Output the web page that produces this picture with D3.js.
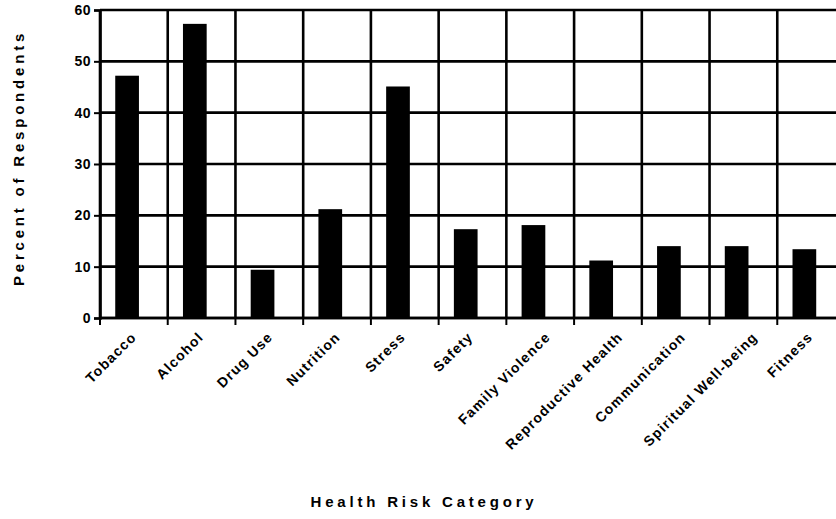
<!DOCTYPE html>
<html>
<head>
<meta charset="utf-8">
<script src="https://cdn.jsdelivr.net/npm/d3@7"></script>
<style>
  html, body { margin: 0; padding: 0; background: #fff; }
  svg { display: block; }
  text { font-family: "Liberation Sans", Arial, sans-serif; font-weight: bold; fill: #000; }
</style>
</head>
<body>
<svg id="chart" width="836" height="519"></svg>
<script>
// Health risk categories and share of respondents (%)
const categories = ["Tobacco", "Alcohol", "Drug Use", "Nutrition", "Stress", "Safety",
  "Family Violence", "Reproductive Health", "Communication", "Spiritual Well-being", "Fitness"];
const percents = [47.2, 57.3, 9.4, 21.2, 45.1, 17.3, 18.1, 11.2, 14.0, 14.0, 13.4];
const yTicks = [0, 10, 20, 30, 40, 50, 60];
const yTitle = "Percent of Respondents";
const xTitle = "Health Risk Category";

const svg = d3.select("#chart");
const plot = { left: 100, right: 845, top: 10, bottom: 318 };

const x = d3.scaleBand().domain(categories).range([plot.left, plot.right]).paddingInner(0).paddingOuter(0);
const y = d3.scaleLinear().domain([0, 60]).range([plot.bottom, plot.top]);
const bw = x.bandwidth();

const g = svg.append("g");

// horizontal gridlines
g.selectAll("line.hgrid").data(yTicks).join("line")
  .attr("class", "hgrid")
  .attr("x1", plot.left).attr("x2", plot.right)
  .attr("y1", d => y(d)).attr("y2", d => y(d))
  .attr("stroke", "#000").attr("stroke-width", 2.6);

// vertical gridlines at category boundaries
g.selectAll("line.vgrid").data(categories).join("line")
  .attr("class", "vgrid")
  .attr("x1", d => x(d)).attr("x2", d => x(d))
  .attr("y1", plot.top).attr("y2", plot.bottom)
  .attr("stroke", "#000").attr("stroke-width", 2.6);

// bars
g.selectAll("rect.bar").data(categories).join("rect")
  .attr("class", "bar")
  .attr("x", d => x(d) + bw * 0.225)
  .attr("width", bw * 0.35)
  .attr("y", (d, i) => y(percents[i]))
  .attr("height", (d, i) => y(0) - y(percents[i]))
  .attr("fill", "#000");

// y axis
const yAxis = d3.axisLeft(y).tickValues(yTicks).tickSize(6).tickPadding(3);
const ya = svg.append("g").attr("transform", `translate(${plot.left},0)`).call(yAxis);
ya.select(".domain").attr("stroke", "#000").attr("stroke-width", 2.6);
ya.selectAll(".tick line").attr("stroke", "#000").attr("stroke-width", 2);
ya.selectAll(".tick text").style("font-size", "14px").style("letter-spacing", "0.5px").attr("font-family", null);

// x axis: ticks at band boundaries
const xa = svg.append("g").attr("transform", `translate(0,${plot.bottom})`);
xa.append("line").attr("x1", plot.left).attr("x2", plot.right).attr("y1", 0).attr("y2", 0)
  .attr("stroke", "#000").attr("stroke-width", 2.6);
xa.selectAll("line.xt").data(categories).join("line")
  .attr("class", "xt")
  .attr("x1", d => x(d)).attr("x2", d => x(d))
  .attr("y1", 0).attr("y2", 7)
  .attr("stroke", "#000").attr("stroke-width", 2);

// rotated category labels; longer labels sit a little further right so the
// rotated block stays centred under its category
const cats = xa.selectAll("text.cat").data(categories).join("text")
  .attr("class", "cat")
  .attr("text-anchor", "end")
  .style("font-size", "14px")
  .style("letter-spacing", "1.2px")
  .text(d => d);
cats.attr("transform", function(d) {
  const len = this.getComputedTextLength();
  const shift = -5 + len * 0.13;
  return `translate(${x(d) + bw * 0.5 + shift},${20}) rotate(-45)`;
});

// axis titles
svg.append("text")
  .attr("transform", "translate(24,158) rotate(-90)")
  .attr("text-anchor", "middle")
  .style("font-size", "15px")
  .style("letter-spacing", "3.8px")
  .text(yTitle);

svg.append("text")
  .attr("x", 424).attr("y", 507)
  .attr("text-anchor", "middle")
  .style("font-size", "15px")
  .style("letter-spacing", "3.8px")
  .text(xTitle);
</script>
</body>
</html>
